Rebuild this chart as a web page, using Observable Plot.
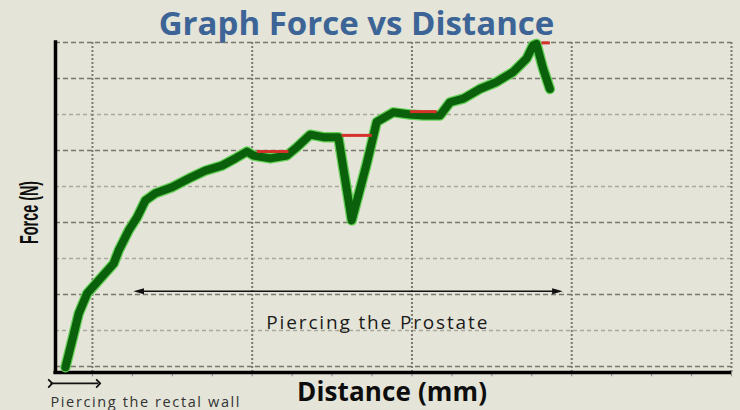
<!DOCTYPE html>
<html><head><meta charset="utf-8">
<script src="https://cdn.jsdelivr.net/npm/d3@7"></script>
<script src="https://cdn.jsdelivr.net/npm/@observablehq/plot@0.6"></script>
<style>
html,body{margin:0;padding:0;background:#e4e4d8;}
#title{width:713px;height:40px;line-height:45px;text-align:center;font-family:"Open Sans",sans-serif;font-weight:700;font-size:33px;color:#3c6496;white-space:nowrap;overflow:visible;}
#chart svg{display:block;}
</style></head><body>
<div id="title">Graph Force vs Distance</div>
<div id="chart"></div>
<script>
// Force–distance trace (distance in grid units, force in grid units)
const distance = [-1.69,-1.27,-0.86,-0.33,0.39,1.33,1.64,2.27,2.79,3.31,3.94,4.98,6.02,7.06,8.11,8.94,9.67,10.08,11.13,12.17,12.79,13.63,14.46,15.39,16.23,17.17,17.79,18.83,19.88,20.71,21.75,22.38,23.21,24.25,25.29,26.33,27.17,27.58,27.79,28.21,28.63];
const force = [-0.02,0.72,1.47,2.03,2.39,2.86,3.22,3.78,4.14,4.61,4.81,4.98,5.22,5.44,5.58,5.78,5.97,5.86,5.78,5.86,6.09,6.44,6.37,6.37,4.06,5.64,6.79,7.06,7.0,6.97,6.97,7.34,7.44,7.71,7.9,8.18,8.55,8.92,8.96,8.27,7.71];

// Red plateau markers
const redStart = [10.29, 15.6, 19.88, 28.1];
const redEnd = [12.27, 17.48, 21.54, 28.63];
const redForce = [5.97, 6.42, 7.08, 8.99];

// Grid
const majorY = [0, 2, 4, 6, 8, 9];
const minorY = [1, 3, 5, 7];
const gridX = [0, 10, 20, 30, 40];
const xTicks = [0, 2.5, 5, 7.5, 10, 12.5, 15, 17.5, 20, 22.5, 25, 27.5, 30, 32.5, 35, 37.5, 40];

// Annotations
const prostateSpan = [2.56, 29.44];
const prostateLevel = 2.09;
const wallSpan = [-2.625, 0.375];
const wallLevel = -0.47;
const labels = ["Piercing the Prostate", "Piercing the rectal wall", "Distance (mm)", "Force (N)"];

const xMin = -2.3125, xMax = 40, yMin = -1/6, yMax = 9;

const curve = distance.map((d, i) => ({distance: d, force: force[i]}));
const reds = redStart.map((d, i) => ({x1: d, x2: redEnd[i], y: redForce[i]}));

const headRight = {draw(ctx, size) {
  const s = Math.sqrt(size), L = 1.5 * s, W = 0.42 * s;
  ctx.moveTo(0, 0); ctx.lineTo(-L, -W); ctx.lineTo(-L, W); ctx.closePath();
}};

const svg = Plot.plot({
  width: 740, height: 370,
  marginLeft: 55, marginRight: 9, marginTop: 2, marginBottom: 38,
  style: {background: "transparent", overflow: "visible"},
  x: {domain: [xMin, xMax], axis: null},
  y: {domain: [yMin, yMax], axis: null},
  marks: [
    Plot.ruleY(minorY, {stroke: "#a8a89d", strokeDasharray: "4,3", strokeWidth: 1.5}),
    Plot.ruleY(majorY, {stroke: "#76766c", strokeDasharray: "5,3", strokeWidth: 1.6}),
    Plot.ruleX(gridX, {stroke: "#7a7a70", strokeDasharray: "2,2", strokeWidth: 2}),
    Plot.ruleX(xTicks, {y1: yMin, y2: yMin - 0.12, stroke: "#888", strokeWidth: 1}),
    Plot.ruleX([xMin], {stroke: "#000", strokeWidth: 3.5, y1: yMin - 0.05, y2: yMax + 0.05}),
    Plot.ruleY([yMin], {stroke: "#000", strokeWidth: 3.5, x1: xMin - 0.1, x2: xMax}),
    Plot.link([0], {x1: prostateSpan[0] + 0.4, x2: prostateSpan[1] - 0.4, y1: prostateLevel, y2: prostateLevel, stroke: "#111", strokeWidth: 1.5}),
    Plot.dot([prostateSpan[1]], {x: d => d, y: prostateLevel, symbol: headRight, r: 4, fill: "#111", stroke: null}),
    Plot.dot([prostateSpan[0]], {x: d => d, y: prostateLevel, symbol: headRight, r: 4, fill: "#111", stroke: null, rotate: 180}),
    Plot.link([0], {x1: wallSpan[0], x2: wallSpan[1], y1: wallLevel, y2: wallLevel, stroke: "#111", strokeWidth: 1.8, markerStart: "arrow", markerEnd: "arrow"}),
    Plot.line(curve, {x: "distance", y: "force", stroke: "#63cf55", strokeWidth: 10.5, strokeLinejoin: "round", strokeLinecap: "round"}),
    Plot.line(curve, {x: "distance", y: "force", stroke: "#0b600b", strokeWidth: 8, strokeLinejoin: "round", strokeLinecap: "round"}),
    Plot.link(reds, {x1: "x1", x2: "x2", y1: "y", y2: "y", stroke: "#d3322a", strokeWidth: 3}),
    Plot.text([labels[0]], {x: 17.8, y: 1.22, text: d => d, fontSize: 19, fill: "#1a1a1a", fontFamily: "Open Sans", textAnchor: "middle", lineAnchor: "middle"}),
    Plot.text([labels[1]], {x: wallSpan[0], y: -1.0, text: d => d, fontSize: 14.5, fill: "#333", fontFamily: "Open Sans", textAnchor: "start", lineAnchor: "middle"}),
    Plot.text([labels[2]], {x: 18.75, y: -0.72, text: d => d, fontSize: 26, fontWeight: "bold", fill: "#0d0d0d", fontFamily: "Open Sans", textAnchor: "middle", lineAnchor: "middle"}),
    Plot.text([labels[3]], {x: -3.94, y: 4.28, text: d => d, fontSize: 26, fontWeight: "bold", fill: "#0d0d0d", fontFamily: "'Liberation Sans Narrow', 'Liberation Sans', sans-serif", rotate: -90, textAnchor: "middle", lineAnchor: "middle"})
  ]
});

const fit = {"Piercing the Prostate": [221, "spacing"], "Piercing the rectal wall": [189, "spacing"], "Distance (mm)": [190, "spacing"], "Force (N)": [63, "spacingAndGlyphs"]};
d3.select(svg).selectAll("text").each(function() {
  const f = fit[this.textContent.trim()];
  if (f) d3.select(this).attr("textLength", f[0]).attr("lengthAdjust", f[1]);
});
document.getElementById("chart").append(svg);
</script>
</body></html>
